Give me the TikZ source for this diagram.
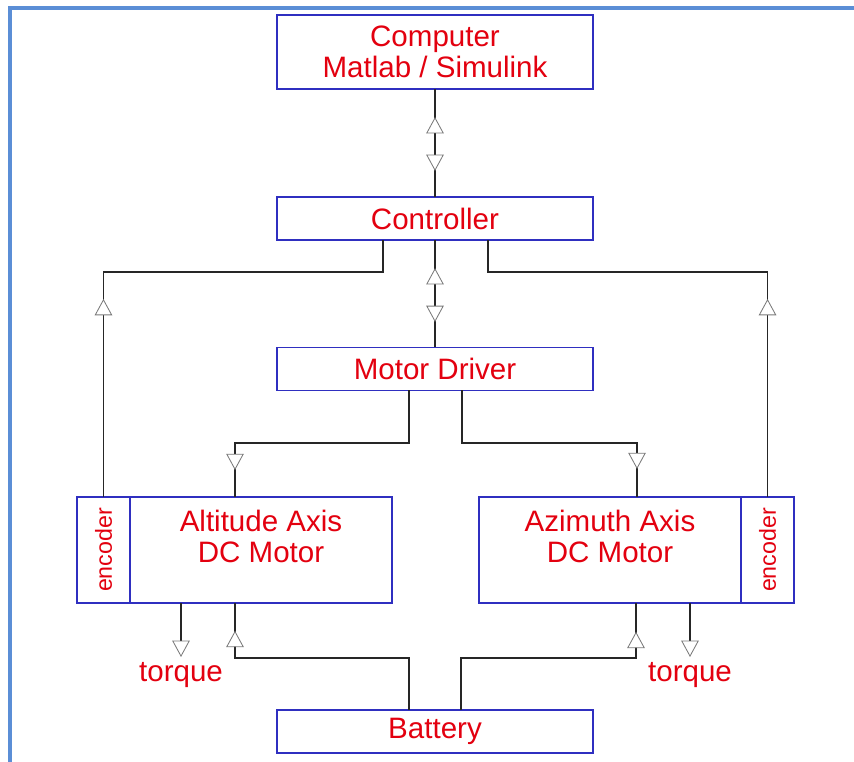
\documentclass[tikz,border=0pt]{standalone}
\usepackage{fontspec}
\setmainfont{Liberation Sans}
\usepackage{graphicx}
\usetikzlibrary{positioning,arrows.meta,calc,decorations.markings}
\definecolor{boxline}{HTML}{2F2FC0}
\definecolor{txtred}{HTML}{E3000F}
\definecolor{frameblue}{HTML}{5B8ED6}
\definecolor{tipgray}{HTML}{7A7A7A}
\tikzset{tri/.tip={Triangle[open, fill=white, length=4.1mm, width=4.4mm, color=tipgray, line width=0.6pt]}}

\begin{document}
\begin{tikzpicture}[
    x=0.025cm, y=-0.025cm,
    block/.style={draw=boxline, line width=0.8pt, fill=white, outer sep=0pt, minimum width=7.9cm, minimum height=1.075cm, align=center, text=txtred, font=\fontsize{21}{21.8}\selectfont},
    motor/.style={block, minimum width=6.55cm, minimum height=0pt, inner ysep=0pt, text height=1.625cm, text depth=1.025cm},
    encbox/.style={block, minimum width=1.325cm, minimum height=2.65cm, inner sep=0pt, font=\fontsize{16.5}{17}\selectfont},
    lbl/.style={text=txtred, font=\fontsize{21}{21.8}\selectfont},
    link/.style={draw=black!85, line width=1.1pt},
    tipat/.style={postaction={decorate, decoration={markings, mark=at position #1 with {\arrow{tri}}}}},
    tipback/.style={postaction={decorate, decoration={markings, mark=at position #1 with {\arrowreversed{tri}}}}},
    twoway/.style={link, tipback=0.7cm, tipat=2.05cm},
    frame/.style={draw=frameblue, line width=2.2pt}
]
    \useasboundingbox (0,0) rectangle (854,762);
    \draw[frame] (854,8) -- (10,8) -- (10,762);

    % Main column
    \node[block, minimum height=1.85cm] (comp) at (435,52) {Computer\\Matlab / Simulink};
    \node[block, below=2.7cm of comp] (ctrl) {Controller};
    \node[block, below=2.675cm of ctrl] (drv) {Motor Driver};
    \node[block] (batt) at (435,731.5) {Battery};

    % Motors with encoders
    \node[motor] (alt) at (261,550) {Altitude Axis\\DC Motor};
    \node[encbox, left=0pt of alt] (encL) {\rotatebox{90}{encoder}};
    \node[motor] (azi) at (610,550) {Azimuth Axis\\DC Motor};
    \node[encbox, right=0pt of azi] (encR) {\rotatebox{90}{encoder}};

    % Torque outputs
    \node[lbl, anchor=north] (torqL) at (181,657) {torque};
    \node[lbl, anchor=north] (torqR) at (690,657) {torque};

    % Connections
    \draw[twoway] (comp) -- (ctrl);
    \draw[twoway] (ctrl) -- (drv);
    \draw[link, tipat=4.95cm] (encL.north) |- ($(ctrl.south)+(-52,32)$) -- ($(ctrl.south)+(-52,0)$);
    \draw[link, tipat=4.95cm] (encR.north) |- ($(ctrl.south)+(53,32)$) -- ($(ctrl.south)+(53,0)$);
    \draw[link, tipat=6.35cm] ($(drv.south)+(-26,0)$) -- ++(0,53) -| ($(alt.north)+(-26,0)$);
    \draw[link, tipat=6.35cm] ($(drv.south)+(27,0)$) -- ++(0,53) -| ($(azi.north)+(27,0)$);
    \draw[link, tipat=6.33cm] ($(batt.north)+(-26,0)$) -- ++(0,-52) -| ($(alt.south)+(-26,0)$);
    \draw[link, tipat=6.33cm] ($(batt.north)+(26,0)$) -- ++(0,-52) -| ($(azi.south)+(26,0)$);
    \draw[link, -{tri}] (alt.south -| torqL) -- (torqL);
    \draw[link, -{tri}] (azi.south -| torqR) -- (torqR);
\end{tikzpicture}
\end{document}
